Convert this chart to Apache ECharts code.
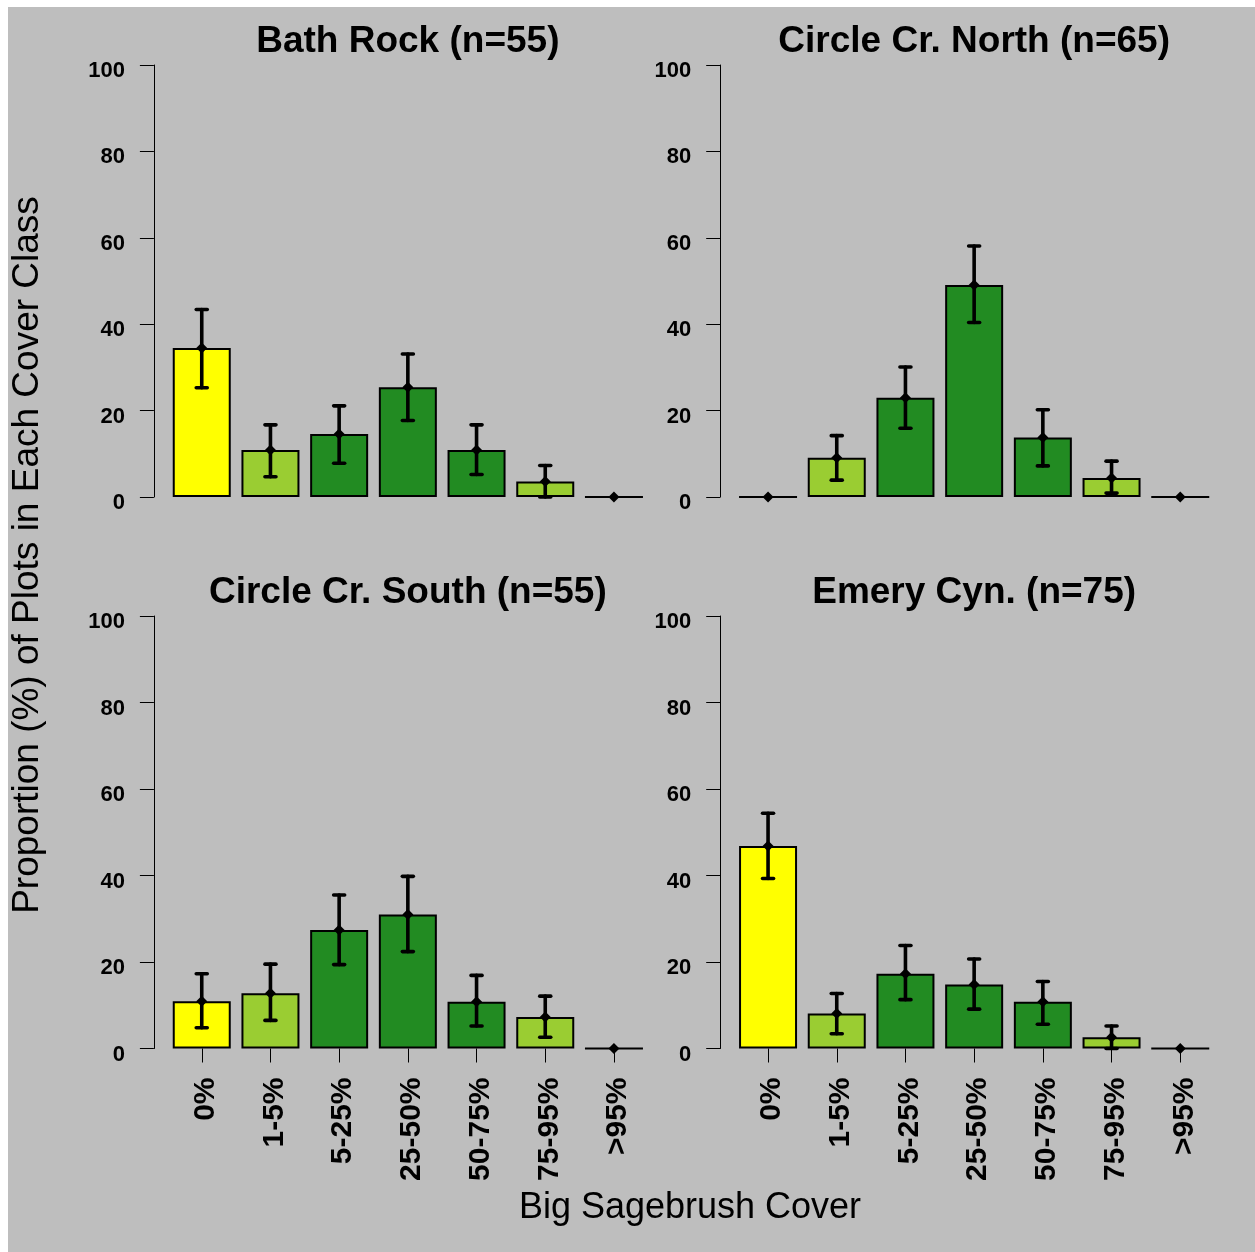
<!DOCTYPE html>
<html>
<head>
<meta charset="utf-8">
<script src="https://cdn.jsdelivr.net/npm/echarts@6/dist/echarts.min.js"></script>
<style>
  html, body { margin: 0; padding: 0; background: #fff; }
  #chart { width: 1255px; height: 1252px; }
</style>
</head>
<body>
<div id="chart"></div>
<script>
// cover classes and per-site proportions (%) with CI bounds
const categories = ["0%", "1-5%", "5-25%", "25-50%", "50-75%", "75-95%", ">95%"];
const classColors = ["#ffff00", "#9acd32", "#228b22", "#228b22", "#228b22", "#9acd32", "#9acd32"];
const siteTitles = ["Bath Rock (n=55)", "Circle Cr. North (n=65)", "Circle Cr. South (n=55)", "Emery Cyn. (n=75)"];

const bathRock = [34.5, 10.9, 14.6, 25.4, 10.9, 3.6, 0];
const bathRockLo = [25.3, 4.7, 7.8, 17.7, 5.2, 0, 0];
const bathRockHi = [43.4, 16.7, 21.1, 33.1, 16.7, 7.3, 0];

const circleNorth = [0, 9.1, 23.0, 49.1, 13.8, 4.4, 0];
const circleNorthLo = [0, 3.9, 15.9, 40.4, 7.2, 0.9, 0];
const circleNorthHi = [0, 14.2, 30.1, 58.1, 20.2, 8.3, 0];

const circleSouth = [10.9, 12.8, 27.4, 31.0, 10.8, 7.3, 0];
const circleSouthLo = [4.8, 6.5, 19.4, 22.4, 5.2, 2.6, 0];
const circleSouthHi = [17.3, 19.5, 35.5, 39.8, 16.9, 12.1, 0];

const emery = [46.8, 8.1, 17.3, 14.8, 10.8, 2.6, 0];
const emeryLo = [39.3, 3.4, 11.3, 9.1, 5.6, 0, 0];
const emeryHi = [54.4, 12.7, 23.8, 20.7, 15.5, 5.2, 0];

const panels = [
  { vals: bathRock, lo: bathRockLo, hi: bathRockHi },
  { vals: circleNorth, lo: circleNorthLo, hi: circleNorthHi },
  { vals: circleSouth, lo: circleSouthLo, hi: circleSouthHi },
  { vals: emery, lo: emeryLo, hi: emeryHi },
];

const FONT = '"Liberation Sans", Arial, sans-serif';
const gridLefts = [167.4, 733.7, 167.4, 733.7];
const gridTops = [65, 65, 616, 616];
const gridHeights = [432, 432, 432.5, 432.5];
const gridWidth = 480.9;

function renderErr(params, api) {
  const i = api.value(0);
  const v = api.value(1);
  const lo = api.value(2);
  const hi = api.value(3);
  const c = api.coord([i, v]);
  const pLo = api.coord([i, lo]);
  const pHi = api.coord([i, hi]);
  const st = { stroke: "#000", lineWidth: 3.6, lineCap: "round" };
  const children = [];
  if (hi > lo) {
    children.push({ type: "line", shape: { x1: c[0], y1: pLo[1], x2: c[0], y2: pHi[1] }, style: st });
    children.push({ type: "line", shape: { x1: c[0] - 5.5, y1: pLo[1], x2: c[0] + 5.5, y2: pLo[1] }, style: st });
    children.push({ type: "line", shape: { x1: c[0] - 5.5, y1: pHi[1], x2: c[0] + 5.5, y2: pHi[1] }, style: st });
  }
  const d = 5.5;
  children.push({
    type: "polygon",
    shape: { points: [[c[0], c[1] - d], [c[0] + d, c[1]], [c[0], c[1] + d], [c[0] - d, c[1]]] },
    style: { fill: "#000" },
  });
  return { type: "group", children: children };
}

const grid = [], xAxis = [], yAxis = [], series = [];
panels.forEach((p, k) => {
  const bottomRow = k >= 2;
  grid.push({ left: gridLefts[k], top: gridTops[k], width: gridWidth, height: gridHeights[k] });
  xAxis.push({
    type: "category",
    gridIndex: k,
    data: categories,
    axisLine: { show: false },
    axisTick: { show: bottomRow, alignWithLabel: true, length: 14, lineStyle: { color: "#000", width: 1 } },
    axisLabel: {
      show: bottomRow,
      rotate: 90,
      margin: 29,
      formatter: "{a|{value}}",
      rich: {
        a: { color: "#000", fontFamily: FONT, fontWeight: "bold", fontSize: 30, padding: [8, 0, 0, 0] },
      },
    },
  });
  yAxis.push({
    type: "value",
    gridIndex: k,
    min: 0,
    max: 100,
    interval: 20,
    offset: 13.5,
    axisLine: { show: true, lineStyle: { color: "#000", width: 1 } },
    axisTick: { show: true, length: 14, lineStyle: { color: "#000", width: 1 } },
    splitLine: { show: false },
    axisLabel: {
      margin: 29,
      formatter: "{a|{value}}",
      rich: {
        a: { color: "#000", fontFamily: FONT, fontWeight: "bold", fontSize: 22, padding: [12, 0, 0, 0] },
      },
    },
  });
  series.push({
    type: "bar",
    xAxisIndex: k,
    yAxisIndex: k,
    barWidth: 58,
    data: p.vals.map((v, i) => ({
      value: v,
      itemStyle: { color: classColors[i], borderColor: "#000", borderWidth: 2 },
    })),
    silent: true,
  });
  series.push({
    type: "custom",
    xAxisIndex: k,
    yAxisIndex: k,
    z: 10,
    renderItem: renderErr,
    encode: { x: 0, y: 1 },
    data: p.vals.map((v, i) => [i, v, p.lo[i], p.hi[i]]),
    silent: true,
  });
});

const graphic = [
  { type: "rect", shape: { x: 0, y: 0, width: 1255, height: 7 }, style: { fill: "#fff" } },
  { type: "rect", shape: { x: 0, y: 0, width: 8, height: 1252 }, style: { fill: "#fff" } },
];
siteTitles.forEach((t, k) => {
  graphic.push({
    type: "text",
    x: gridLefts[k] + gridWidth / 2,
    y: gridTops[k] - 23,
    style: {
      text: t, align: "center", verticalAlign: "middle",
      fontFamily: FONT, fontWeight: "bold", fontSize: 37, fill: "#000",
    },
  });
});
graphic.push({
  type: "text",
  x: 28,
  y: 555,
  rotation: Math.PI / 2,
  style: {
    text: "Proportion (%) of Plots in Each Cover Class", align: "center", verticalAlign: "middle",
    fontFamily: FONT, fontSize: 37, fill: "#000",
  },
});
graphic.push({
  type: "text",
  x: 690,
  y: 1208,
  style: {
    text: "Big Sagebrush Cover", align: "center", verticalAlign: "middle",
    fontFamily: FONT, fontSize: 36, fill: "#000",
  },
});

const myChart = echarts.init(document.getElementById("chart"));
myChart.setOption({
  backgroundColor: "#bebebe",
  animation: false,
  grid: grid,
  xAxis: xAxis,
  yAxis: yAxis,
  series: series,
  graphic: graphic,
});
</script>
</body>
</html>
